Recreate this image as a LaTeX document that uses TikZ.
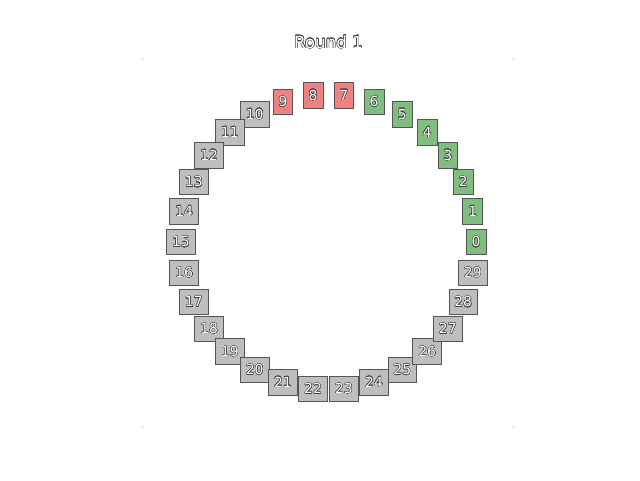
\documentclass[tikz,border=0pt]{standalone}
\usepackage{fontspec}
\setmainfont{DejaVu Sans}
\usepackage{contour}
\contourlength{0.45pt}
\contournumber{16}
\definecolor{boxred}{RGB}{242,128,128}
\definecolor{boxgreen}{RGB}{128,190,128}
\definecolor{boxgrey}{RGB}{190,190,190}
\definecolor{boxedge}{RGB}{85,85,85}
\newcommand{\olabel}[1]{\contour{black!75}{\textcolor{white}{#1}}}
\tikzset{
  cell/.style={draw=boxedge, line width=0.8pt, inner xsep=5.5pt, inner ysep=0pt,
    minimum height=25.5pt, font=\fontsize{13.9pt}{14pt}\selectfont},
  redcell/.style={cell, fill=boxred},
  greencell/.style={cell, fill=boxgreen},
  greycell/.style={cell, fill=boxgrey},
  titletext/.style={font=\fontsize{16.7pt}{18pt}\selectfont},
  cornermark/.style={fill=gray!35, draw=none}
}
\begin{document}
\begin{tikzpicture}[x=1pt,y=-1pt]
\useasboundingbox (0,0) rectangle (640,480);
\node[titletext] (title) at (328.5,42) {\olabel{Round 1}};
\foreach \p/\q in {143/59,513/59,143/427,513/427}{
  \fill[cornermark] (\p,\q) circle (0.8pt);
}
\foreach \i in {0,...,29}{
  \pgfmathsetmacro{\ang}{12*\i}
  \pgfmathsetmacro{\cx}{328.5+147.5*cos(\ang)}
  \pgfmathsetmacro{\cy}{242-147.5*sin(\ang)}
  \ifnum\i<7
    \node[greencell] (c\i) at (\cx,\cy) {\olabel{\i}};
  \else\ifnum\i<10
    \node[redcell] (c\i) at (\cx,\cy) {\olabel{\i}};
  \else
    \node[greycell] (c\i) at (\cx,\cy) {\olabel{\i}};
  \fi\fi
}
\end{tikzpicture}
\end{document}
